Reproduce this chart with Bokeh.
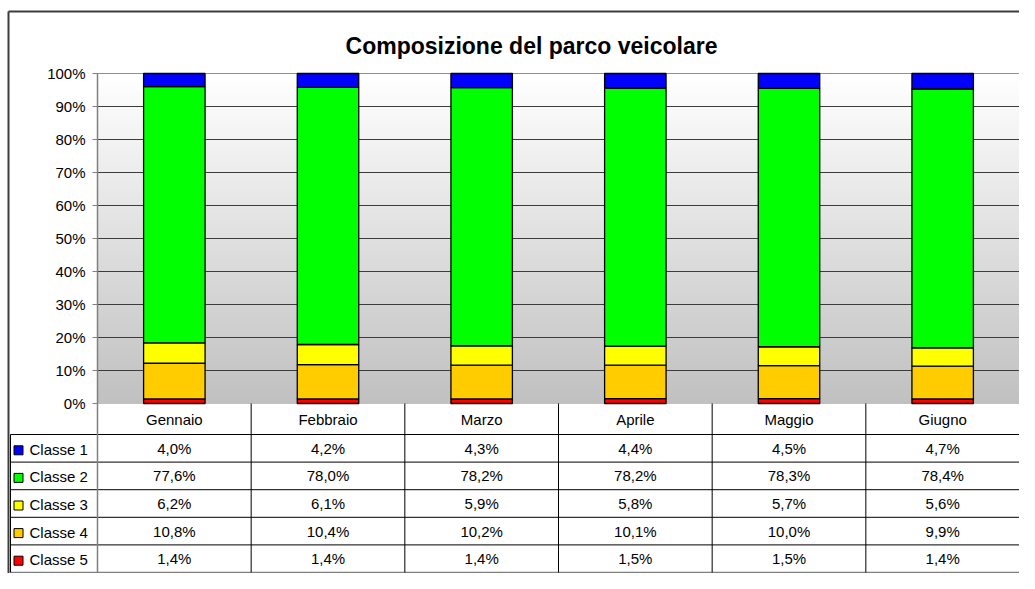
import numpy as np
from bokeh.plotting import figure
from bokeh.models import Range1d, FixedTicker, ColumnDataSource
from bokeh.core.properties import value
from bokeh.embed import file_html
from bokeh.resources import INLINE

# ---------------- data ----------------
months = ["Gennaio", "Febbraio", "Marzo", "Aprile", "Maggio", "Giugno"]
series_names = ["Classe 1", "Classe 2", "Classe 3", "Classe 4", "Classe 5"]
classe1 = [4.0, 4.2, 4.3, 4.4, 4.5, 4.7]
classe2 = [77.6, 78.0, 78.2, 78.2, 78.3, 78.4]
classe3 = [6.2, 6.1, 5.9, 5.8, 5.7, 5.6]
classe4 = [10.8, 10.4, 10.2, 10.1, 10.0, 9.9]
classe5 = [1.4, 1.4, 1.4, 1.5, 1.5, 1.4]
y_ticks = [0, 10, 20, 30, 40, 50, 60, 70, 80, 90, 100]
tick_labels = ["0%", "10%", "20%", "30%", "40%", "50%", "60%", "70%", "80%", "90%", "100%"]
title_text = "Composizione del parco veicolare"

colors = ["#0000FF", "#00FF00", "#FFFF00", "#FFCC00", "#FF0000"]
series = [classe1, classe2, classe3, classe4, classe5]

# ---------------- layout (pixels) ----------------
W, H = 1019, 573
axis_px = 97            # canvas x of the value axis
plot_top_px = 73        # canvas y of 100%
plot_bot_px = 403       # canvas y of 0%
n = len(months)
cat_px = (W - axis_px) / n
ypx = (plot_bot_px - plot_top_px) / 100.0

x_start = -axis_px / cat_px
x_end = float(n)
y_start = -(H - plot_bot_px) / ypx
y_end = 100 + plot_top_px / ypx


def X(px):
    return (px - axis_px) / cat_px


def Y(py):
    return (plot_bot_px - py) / ypx


FONT = value("Liberation Sans")

p = figure(width=W, height=H, x_range=Range1d(x_start, x_end),
           y_range=Range1d(y_start, y_end), output_backend="svg",
           toolbar_location=None, title=None, min_border=0,
           min_border_left=0, min_border_right=0, min_border_top=0,
           min_border_bottom=0)
p.outline_line_color = None
p.background_fill_color = "white"
p.border_fill_color = "white"
p.xaxis.visible = False
p.xgrid.visible = False
p.ygrid.visible = False

# gradient background of plot area (white -> silver)
levels = np.linspace(100, 0, 166)[:-1]
bg_cols = []
for lv in levels:
    g = int(round(192 + 63 * lv / 100.0))
    bg_cols.append("#%02x%02x%02x" % (g, g, g))
p.quad(left=0, right=n, bottom=0, top=levels, fill_color=bg_cols, line_color=None)

# gridlines
grid_y = [t for t in y_ticks if t > 0 and t < 100]
p.segment(x0=0, x1=n, y0=grid_y, y1=grid_y, line_color="#3c3c3c", line_width=1)
p.segment(x0=0, x1=n, y0=100, y1=100, line_color="#909090", line_width=1)

# stacked 100% bars
xs = np.arange(n) + 0.5
tot = np.sum(np.array(series), axis=0)
src = {"x": xs}
keys = []
for name, s in zip(series_names, series):
    k = name.replace(" ", "_")
    src[k] = np.array(s) / tot * 100.0
    keys.append(k)
source = ColumnDataSource(src)
p.vbar_stack(keys[::-1], x="x", width=0.4, source=source,
             fill_color=colors[::-1], line_color="black", line_width=1.3)

# y axis at the plot area left edge
ax = p.yaxis[0]
ax.fixed_location = 0
ax.bounds = (y_start, 100)
ax.ticker = FixedTicker(ticks=y_ticks)
ax.major_label_overrides = {t: l for t, l in zip(y_ticks, tick_labels)}
ax.minor_tick_line_color = None
ax.major_tick_in = 0
ax.major_tick_out = 5
ax.axis_line_color = "#808080"
ax.axis_line_width = 1.5
ax.major_tick_line_color = "#808080"
ax.major_label_standoff = 7
ax.major_label_text_font = "Liberation Sans"
ax.major_label_text_font_size = "15px"
ax.major_label_text_color = "black"

# ---------------- data table ----------------
header_bot_px = 434
table_bot_px = 572
row_h = (table_bot_px - header_bot_px) / len(series)
legend_left_px = 10
row_bots = [header_bot_px + row_h * (i + 1) for i in range(len(series))]
table_bot = Y(row_bots[-1])

# horizontal lines
hy = [Y(header_bot_px)] + [Y(b) for b in row_bots[:-1]]
p.segment(x0=X(legend_left_px), x1=n, y0=hy, y1=hy, line_color="black", line_width=1)
p.segment(x0=X(legend_left_px), x1=n, y0=table_bot, y1=table_bot, line_color="#808080", line_width=1.5)
# vertical lines
vx = list(range(1, n))
p.segment(x0=vx, x1=vx, y0=0, y1=table_bot, line_color="black", line_width=1)
p.segment(x0=X(legend_left_px), x1=X(legend_left_px), y0=Y(header_bot_px), y1=table_bot,
          line_color="black", line_width=1)

# month headers
p.text(x=xs, y=Y((plot_bot_px + header_bot_px) / 2), text=months, text_font=FONT,
       text_font_size="15px", text_align="center", text_baseline="middle", text_color="black")

# rows
for i, (name, s, c) in enumerate(zip(series_names, series, colors)):
    top = header_bot_px + row_h * i
    cy = Y(top + row_h / 2)
    labels = [("%.1f" % v).replace(".", ",") + "%" for v in s]
    p.text(x=xs, y=cy, text=labels, text_font=FONT, text_font_size="15px",
           text_align="center", text_baseline="middle", text_color="black")
    p.scatter(x=[X(18)], y=[Y(top + row_h / 2 + 2)], marker="square", size=9,
              fill_color=c, line_color="black", line_width=1)
    p.text(x=[X(29)], y=[Y(top + row_h / 2 + 1)], text=[name], text_font=FONT,
           text_font_size="15px", text_align="left", text_baseline="middle", text_color="black")

# title
p.text(x=[X(531)], y=[Y(45)], text=[title_text], text_font=FONT, text_font_size="23px",
       text_font_style="bold", text_align="center", text_baseline="middle", text_color="black")

# outer chart border (left and top edges)
bx, by = X(8), Y(11)
p.segment(x0=[bx, bx], x1=[bx, x_end], y0=[y_start, by], y1=[by, by],
          line_color="#3c3c3c", line_width=2)

open("out.html", "w").write(file_html(p, INLINE))
